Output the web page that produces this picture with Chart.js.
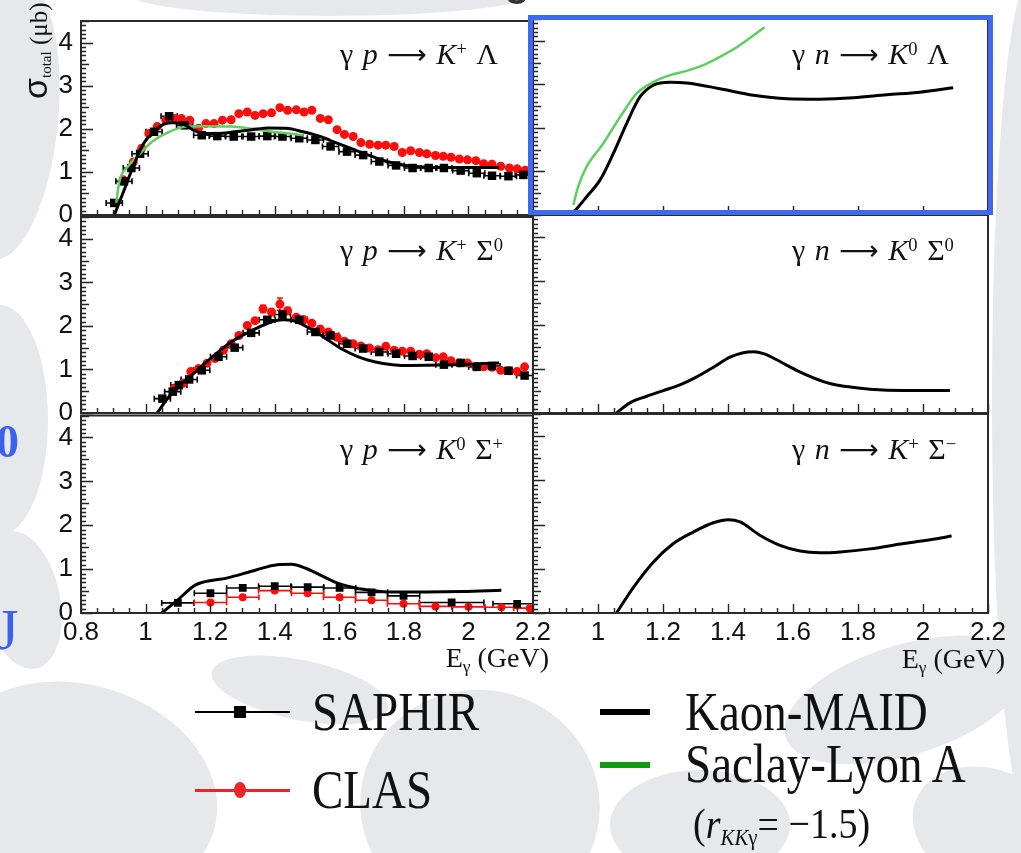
<!DOCTYPE html>
<html>
<head>
<meta charset="utf-8">
<script src="https://cdn.jsdelivr.net/npm/chart.js@4.4.1/dist/chart.umd.min.js"></script>
<style>
  body { margin: 0; background: #fff; }
  #page { position: relative; width: 1021px; height: 853px; overflow: hidden; background: #fff; }
  .txt { position: absolute; white-space: nowrap; line-height: 1; color: #111; z-index: 5; }
  .txt .up { font-size: .62em; vertical-align: .5em; line-height: 0; }
  .txt .dn { font-size: .62em; vertical-align: -.28em; line-height: 0; }
  .txt .arr { font-family: "DejaVu Sans", sans-serif; font-size: .92em; line-height: 0; }
  .sw { position: absolute; z-index: 5; }
  #box { position: absolute; left: 528px; top: 15px; width: 465px; height: 200px; box-sizing: border-box;
         border: 5px solid #3e6af2; z-index: 6; }
</style>
</head>
<body>
<div id="page">
  <canvas id="bg" width="1021" height="853" style="position:absolute;left:0;top:0"></canvas>
  <div id="box"></div>
</div>
<script>
// axis ticks shared by all six panels
const eTicks = [0.8, 1, 1.2, 1.4, 1.6, 1.8, 2, 2.2];
const eTickLabels = ['0.8', '1', '1.2', '1.4', '1.6', '1.8', '2', '2.2'];
const sigmaTicks = [0, 1, 2, 3, 4];

// gamma p -> K+ Lambda
const kpLamSaphirE = [0.903, 0.933, 0.956, 0.983, 1.026, 1.073, 1.121, 1.174, 1.222, 1.273, 1.327, 1.377, 1.424, 1.476, 1.526, 1.573, 1.624, 1.674, 1.724, 1.776, 1.827, 1.877, 1.924, 1.976, 2.026, 2.073, 2.124, 2.170];
const kpLamSaphirS = [0.28, 0.78, 1.09, 1.42, 1.93, 2.29, 2.08, 1.85, 1.83, 1.82, 1.82, 1.83, 1.82, 1.78, 1.74, 1.59, 1.47, 1.39, 1.24, 1.15, 1.09, 1.09, 1.09, 1.03, 0.97, 0.91, 0.90, 0.93];
const kpLamClasE = [0.930, 0.962, 0.988, 1.010, 1.036, 1.063, 1.089, 1.111, 1.137, 1.164, 1.187, 1.212, 1.238, 1.265, 1.289, 1.315, 1.339, 1.364, 1.390, 1.416, 1.440, 1.467, 1.491, 1.515, 1.541, 1.566, 1.593, 1.616, 1.643, 1.667, 1.694, 1.720, 1.744, 1.770, 1.795, 1.821, 1.848, 1.871, 1.898, 1.922, 1.946, 1.972, 1.997, 2.023, 2.047, 2.073, 2.100, 2.127, 2.151, 2.176];
const kpLamClasS = [0.82, 1.23, 1.55, 1.89, 2.05, 2.20, 2.24, 2.24, 2.20, 2.01, 2.12, 2.12, 2.20, 2.21, 2.35, 2.39, 2.31, 2.35, 2.37, 2.49, 2.43, 2.44, 2.39, 2.43, 2.24, 2.21, 1.98, 1.87, 1.82, 1.68, 1.64, 1.62, 1.62, 1.59, 1.45, 1.49, 1.45, 1.42, 1.38, 1.36, 1.34, 1.30, 1.28, 1.26, 1.19, 1.18, 1.13, 1.09, 1.07, 1.04];
const kpLamMaidE = [0.903, 0.930, 0.962, 0.994, 1.026, 1.057, 1.084, 1.116, 1.148, 1.180, 1.222, 1.276, 1.329, 1.382, 1.435, 1.488, 1.541, 1.595, 1.648, 1.701, 1.754, 1.807, 1.871, 1.946, 2.031, 2.095];
const kpLamMaidS = [0, 0.51, 1.13, 1.66, 1.93, 2.11, 2.14, 2.11, 1.97, 1.89, 1.89, 1.93, 1.98, 2.02, 2.01, 1.93, 1.82, 1.66, 1.51, 1.36, 1.23, 1.15, 1.11, 1.10, 1.10, 1.10];
const kpLamSlaE = [0.909, 0.919, 0.946, 0.978, 1.020, 1.073, 1.127, 1.180, 1.265, 1.339, 1.393, 1.446, 1.488];
const kpLamSlaS = [0.28, 0.78, 1.13, 1.39, 1.70, 1.93, 2.05, 2.06, 2.05, 1.99, 1.93, 1.89, 1.85];

// gamma n -> K0 Lambda
const k0LamMaidE = [0.912, 0.929, 0.965, 1.006, 1.047, 1.088, 1.129, 1.170, 1.222, 1.273, 1.375, 1.478, 1.581, 1.683, 1.786, 1.888, 1.991, 2.093];
const k0LamMaidS = [0, 0.10, 0.42, 0.80, 1.41, 2.10, 2.71, 2.98, 3.05, 3.03, 2.90, 2.75, 2.67, 2.66, 2.69, 2.76, 2.82, 2.92];
const k0LamSlaE = [0.924, 0.939, 0.965, 1.016, 1.068, 1.119, 1.170, 1.222, 1.273, 1.324, 1.375, 1.427, 1.478, 1.512];
const k0LamSlaS = [0.23, 0.65, 1.11, 1.64, 2.25, 2.79, 3.05, 3.21, 3.31, 3.44, 3.63, 3.85, 4.12, 4.31];

// gamma p -> K+ Sigma0
const kpSig0SaphirE = [1.052, 1.084, 1.103, 1.135, 1.174, 1.226, 1.276, 1.327, 1.377, 1.424, 1.476, 1.526, 1.573, 1.624, 1.674, 1.724, 1.776, 1.827, 1.877, 1.924, 1.976, 2.026, 2.073, 2.124, 2.174];
const kpSig0SaphirS = [0.33, 0.49, 0.64, 0.77, 0.98, 1.29, 1.50, 1.84, 2.14, 2.26, 2.14, 1.86, 1.78, 1.59, 1.48, 1.40, 1.36, 1.31, 1.29, 1.11, 1.15, 1.06, 1.08, 0.97, 0.86];
const kpSig0ClasE = [1.089, 1.116, 1.140, 1.164, 1.190, 1.215, 1.241, 1.265, 1.289, 1.315, 1.339, 1.364, 1.390, 1.416, 1.440, 1.467, 1.491, 1.515, 1.541, 1.566, 1.593, 1.616, 1.643, 1.667, 1.694, 1.720, 1.744, 1.770, 1.795, 1.821, 1.848, 1.871, 1.898, 1.922, 1.946, 1.972, 1.997, 2.023, 2.047, 2.073, 2.100, 2.127, 2.151, 2.174];
const kpSig0ClasS = [0.57, 0.68, 0.95, 1.02, 1.14, 1.25, 1.44, 1.59, 1.78, 2.01, 2.12, 2.39, 2.32, 2.50, 2.35, 2.20, 2.14, 2.06, 1.93, 1.86, 1.74, 1.65, 1.59, 1.54, 1.49, 1.45, 1.53, 1.44, 1.42, 1.42, 1.35, 1.36, 1.27, 1.29, 1.20, 1.15, 1.15, 1.06, 1.06, 1.05, 0.98, 0.97, 0.95, 1.06];
const kpSig0ClasErr = [0, 0, 0, 0, 0, 0, 0, 0, 0, 0, 0, 0.08, 0, 0.14, 0.07, 0, 0, 0, 0, 0, 0, 0, 0, 0, 0, 0, 0, 0, 0, 0, 0, 0, 0, 0, 0, 0, 0, 0, 0, 0, 0, 0, 0, 0];
const kpSig0MaidE = [1.036, 1.073, 1.137, 1.201, 1.265, 1.329, 1.393, 1.424, 1.456, 1.499, 1.552, 1.605, 1.659, 1.712, 1.765, 1.818, 1.924, 2.031, 2.095];
const kpSig0MaidS = [0, 0.38, 0.83, 1.25, 1.63, 1.89, 2.10, 2.14, 2.12, 1.98, 1.74, 1.48, 1.29, 1.17, 1.11, 1.09, 1.10, 1.13, 1.15];

// gamma n -> K0 Sigma0
const k0Sig0MaidE = [1.057, 1.098, 1.150, 1.201, 1.252, 1.304, 1.355, 1.406, 1.447, 1.478, 1.509, 1.560, 1.611, 1.663, 1.714, 1.765, 1.837, 1.940, 2.083];
const k0Sig0MaidS = [0, 0.23, 0.38, 0.51, 0.64, 0.82, 1.04, 1.27, 1.37, 1.39, 1.35, 1.17, 0.97, 0.80, 0.67, 0.60, 0.54, 0.51, 0.51];

// gamma p -> K0 Sigma+
const k0SigpSaphirE = [1.100, 1.201, 1.301, 1.400, 1.502, 1.601, 1.700, 1.799, 1.948, 2.151];
const k0SigpSaphirS = [0.23, 0.45, 0.57, 0.61, 0.59, 0.57, 0.47, 0.39, 0.24, 0.21];
const k0SigpSaphirBin = [0.05, 0.05, 0.05, 0.05, 0.05, 0.05, 0.05, 0.05, 0.1, 0.075];
const k0SigpClasE = [1.201, 1.301, 1.400, 1.502, 1.601, 1.700, 1.799, 1.898, 2.000, 2.102, 2.190];
const k0SigpClasS = [0.24, 0.36, 0.51, 0.45, 0.36, 0.29, 0.21, 0.15, 0.14, 0.13, 0.11];
const k0SigpClasBin = [0.05, 0.05, 0.05, 0.05, 0.05, 0.05, 0.05, 0.05, 0.05, 0.05, 0.05];
const k0SigpMaidE = [1.050, 1.100, 1.155, 1.254, 1.342, 1.408, 1.452, 1.496, 1.540, 1.595, 1.650, 1.705, 1.760, 1.870, 1.981, 2.102];
const k0SigpMaidS = [0, 0.30, 0.64, 0.80, 0.98, 1.10, 1.11, 1.02, 0.87, 0.68, 0.57, 0.51, 0.48, 0.48, 0.49, 0.52];

// gamma n -> K+ Sigma-
const kpSigmMaidE = [1.057, 1.109, 1.170, 1.232, 1.293, 1.355, 1.401, 1.437, 1.498, 1.560, 1.622, 1.683, 1.745, 1.837, 1.940, 2.042, 2.088];
const kpSigmMaidS = [0, 0.58, 1.15, 1.57, 1.83, 2.04, 2.11, 2.06, 1.76, 1.53, 1.40, 1.36, 1.38, 1.45, 1.57, 1.68, 1.74];

// saphir horizontal bin half width in the two upper rows
const saphirHalfBin = 0.025;

const W = 1021;
const colL = [81, 533], colR = [533, 988];
const rowT = [19, 215, 414], rowB = [215, 413, 613];
const page = document.getElementById('page');

Chart.defaults.font.family = '"Liberation Sans", Arial, sans-serif';

// faint watermark leaves behind the figure
(function drawBackdrop() {
  const c = document.getElementById('bg').getContext('2d');
  c.fillStyle = '#e7e8ec';
  const blobs = [
    [8, 120, 50, 140, 0.1], [0, 420, 48, 115, 0], [22, 600, 38, 70, -0.2],
    [80, 790, 140, 105, 0.3], [300, 690, 90, 30, 0.2], [480, 805, 120, 115, 0.2],
    [700, 825, 90, 55, 0], [905, 700, 125, 55, -0.3], [990, 830, 80, 60, 0.4],
    [1030, 400, 38, 420, 0], [330, -6, 200, 22, 0]
  ];
  blobs.forEach(([x, y, rx, ry, rot]) => { c.beginPath(); c.ellipse(x, y, rx, ry, rot, 0, Math.PI * 2); c.fill(); });
})();

const pts = (E, S) => E.map((e, i) => ({ x: e, y: S[i] }));
const maidLine = (E, S) => ({ data: pts(E, S), showLine: true, borderColor: '#000', borderWidth: 3, pointRadius: 0, cubicInterpolationMode: 'monotone', order: 0 });
const slaLine = (E, S) => ({ data: pts(E, S), showLine: true, borderColor: '#5dcf5d', borderWidth: 2.5, pointRadius: 0, cubicInterpolationMode: 'monotone', order: 0 });
const saphirPts = (E, S, xErr, r) => ({ data: pts(E, S), pointStyle: 'rect', pointRadius: r, backgroundColor: '#000', borderColor: '#000', borderWidth: 0, xErr, order: 1 });
const clasPts = (E, S, xErr, yErr, r) => ({ data: pts(E, S), pointStyle: 'circle', pointRadius: r, backgroundColor: '#ff0d0d', borderColor: '#ff0d0d', borderWidth: 0, xErr, yErr, order: 2 });

// white plot area, error bars under the markers, frame and inward ticks on top
const panelDeco = {
  id: 'panelDeco',
  beforeDraw(chart) {
    const { ctx, chartArea: a } = chart;
    ctx.save(); ctx.fillStyle = '#fff'; ctx.fillRect(a.left, a.top, a.width, a.height); ctx.restore();
  },
  beforeDatasetsDraw(chart) {
    const { ctx, chartArea: a, scales: { x, y } } = chart;
    ctx.save();
    ctx.beginPath(); ctx.rect(a.left, a.top, a.width, a.height); ctx.clip();
    chart.data.datasets.forEach(ds => {
      if (!ds.xErr && !ds.yErr) return;
      ctx.strokeStyle = ds.borderColor; ctx.lineWidth = 1.6;
      ds.data.forEach((p, i) => {
        const px = x.getPixelForValue(p.x), py = y.getPixelForValue(p.y);
        const dx = ds.xErr ? (Array.isArray(ds.xErr) ? ds.xErr[i] : ds.xErr) : 0;
        const dy = ds.yErr ? ds.yErr[i] : 0;
        ctx.beginPath();
        if (dx) {
          const x0 = x.getPixelForValue(p.x - dx), x1 = x.getPixelForValue(p.x + dx);
          ctx.moveTo(x0, py); ctx.lineTo(x1, py);
          ctx.moveTo(x0, py - 3); ctx.lineTo(x0, py + 3);
          ctx.moveTo(x1, py - 3); ctx.lineTo(x1, py + 3);
        }
        if (dy) {
          const y0 = y.getPixelForValue(p.y - dy), y1 = y.getPixelForValue(p.y + dy);
          ctx.moveTo(px, y0); ctx.lineTo(px, y1);
          ctx.moveTo(px - 3, y1); ctx.lineTo(px + 3, y1);
          ctx.moveTo(px - 3, y0); ctx.lineTo(px + 3, y0);
        }
        ctx.stroke();
      });
    });
    ctx.restore();
  },
  afterDraw(chart) {
    const { ctx, chartArea: a, scales: { x, y } } = chart;
    ctx.save();
    ctx.strokeStyle = '#222'; ctx.lineWidth = 1.4;
    ctx.beginPath();
    for (let i = 0; i <= 28; i++) {
      const px = Math.round(x.getPixelForValue(0.8 + i * 0.05)) + 0.5;
      const len = i % 4 === 0 ? 9 : 5;
      ctx.moveTo(px, a.bottom); ctx.lineTo(px, a.bottom - len);
    }
    for (let i = 0; i <= 45; i++) {
      const py = Math.round(y.getPixelForValue(i * 0.1)) + 0.5;
      const len = i % 10 === 0 ? 12 : (i % 5 === 0 ? 8 : 5);
      ctx.moveTo(a.left, py); ctx.lineTo(a.left + len, py);
    }
    ctx.stroke();
    ctx.lineWidth = 2; ctx.strokeStyle = '#2a2a2a';
    ctx.strokeRect(a.left, a.top, a.width, a.height);
    ctx.restore();
  }
};

function makePanel(col, row, datasets) {
  const padL = 70, padT = 4, padR = 28, padB = 46;
  const w = colR[col] - colL[col], h = rowB[row] - rowT[row];
  const cv = document.createElement('canvas');
  cv.width = w + padL + padR; cv.height = h + padT + padB;
  cv.style.cssText = `position:absolute;left:${colL[col] - padL}px;top:${rowT[row] - padT}px;width:${cv.width}px;height:${cv.height}px`;
  page.appendChild(cv);
  const tickFont = { family: '"Liberation Sans", Arial, sans-serif', size: 26 };
  new Chart(cv, {
    type: 'scatter',
    data: { datasets },
    options: {
      responsive: false, animation: false, devicePixelRatio: 1, events: [],
      layout: { padding: { top: padT, right: padR, left: 0, bottom: 0 } },
      plugins: { legend: { display: false }, tooltip: { enabled: false } },
      scales: {
        x: {
          type: 'linear', min: 0.8, max: 2.2,
          grid: { display: false, drawTicks: false }, border: { display: false },
          afterBuildTicks: s => { s.ticks = eTicks.map(v => ({ value: v })); },
          afterFit: s => { s.height = padB; s.paddingLeft = 0; s.paddingRight = 0; },
          ticks: {
            display: row === 2, autoSkip: false, maxRotation: 0, padding: 4, color: '#111', font: tickFont,
            callback: (v, i) => (col === 1 && i === 0) ? '' : eTickLabels[i]
          }
        },
        y: {
          type: 'linear', min: 0, max: 4.5,
          grid: { display: false, drawTicks: false }, border: { display: false },
          afterBuildTicks: s => { s.ticks = sigmaTicks.map(v => ({ value: v })); },
          afterFit: s => { s.width = padL; s.paddingTop = 0; s.paddingBottom = 0; },
          ticks: { display: col === 0, padding: 8, color: '#111', font: tickFont, callback: v => String(v) }
        }
      }
    },
    plugins: [panelDeco]
  });
}

makePanel(0, 0, [
  maidLine(kpLamMaidE, kpLamMaidS), slaLine(kpLamSlaE, kpLamSlaS),
  saphirPts(kpLamSaphirE, kpLamSaphirS, saphirHalfBin, 6), clasPts(kpLamClasE, kpLamClasS, null, null, 4.5)
]);
makePanel(0, 1, [
  maidLine(kpSig0MaidE, kpSig0MaidS),
  saphirPts(kpSig0SaphirE, kpSig0SaphirS, saphirHalfBin, 6), clasPts(kpSig0ClasE, kpSig0ClasS, null, kpSig0ClasErr, 4.5)
]);
makePanel(0, 2, [
  maidLine(k0SigpMaidE, k0SigpMaidS),
  saphirPts(k0SigpSaphirE, k0SigpSaphirS, k0SigpSaphirBin, 5.5), clasPts(k0SigpClasE, k0SigpClasS, k0SigpClasBin, null, 4)
]);
makePanel(1, 0, [maidLine(k0LamMaidE, k0LamMaidS), slaLine(k0LamSlaE, k0LamSlaS)]);
makePanel(1, 1, [maidLine(k0Sig0MaidE, k0Sig0MaidS)]);
makePanel(1, 2, [maidLine(kpSigmMaidE, kpSigmMaidS)]);

// text helper: x and baseline in page pixels
function txt(html, x, base, size, o = {}) {
  const d = document.createElement('div');
  d.className = 'txt';
  d.innerHTML = html;
  const asc = o.sans ? 0.8465 : 0.8375;
  d.style.fontFamily = o.sans ? '"Liberation Sans", Arial, sans-serif' : '"Liberation Serif", "Times New Roman", serif';
  d.style.fontSize = size + 'px';
  d.style.top = (base - asc * size) + 'px';
  if (o.right) d.style.right = (W - x) + 'px'; else d.style.left = x + 'px';
  if (o.color) d.style.color = o.color;
  if (o.bold) d.style.fontWeight = 'bold';
  if (o.ws) d.style.wordSpacing = o.ws + 'px';
  if (o.sy) { d.style.transform = `scaleY(${o.sy})`; d.style.transformOrigin = `0 ${asc * size}px`; }
  page.appendChild(d);
  return d;
}

// reaction labels
const arrow = '<span class="arr">⟶</span>';
const titles = [
  [0, 0, `γ <i>p</i> ${arrow} <i>K</i><span class="up">+</span> Λ`],
  [1, 0, `γ <i>n</i> ${arrow} <i>K</i><span class="up">0</span> Λ`],
  [0, 1, `γ <i>p</i> ${arrow} <i>K</i><span class="up">+</span> Σ<span class="up">0</span>`],
  [1, 1, `γ <i>n</i> ${arrow} <i>K</i><span class="up">0</span> Σ<span class="up">0</span>`],
  [0, 2, `γ <i>p</i> ${arrow} <i>K</i><span class="up">0</span> Σ<span class="up">+</span>`],
  [1, 2, `γ <i>n</i> ${arrow} <i>K</i><span class="up">+</span> Σ<span class="up">−</span>`]
];
titles.forEach(([c, r, html]) => txt(html, colL[c] + 259, rowT[r] + 45, 30, { ws: 2 }));

// axis titles
const yTitle = txt('<span style="font-family:\'Liberation Sans\',sans-serif;font-size:34px">σ</span><span class="dn" style="font-size:15px">total</span> (μb)', 0, 0, 25);
yTitle.style.left = '18px'; yTitle.style.top = '99px';
yTitle.style.transformOrigin = '0 0'; yTitle.style.transform = 'rotate(-90deg)';
txt('E<span class="dn">γ</span> (GeV)', 549, 667, 28, { right: true });
txt('E<span class="dn">γ</span> (GeV)', 1005, 668, 28, { right: true });

// clipped slide text at the edges
txt('0', -4, 458, 46, { bold: true, color: '#3a62ee' });
txt('J', -4, 650, 58, { color: '#3a62ee' });
txt('g', 505, -4, 40, { sans: true, bold: true, color: '#333' });

// legend
function swatch(css) { const d = document.createElement('div'); d.className = 'sw'; d.style.cssText += css; page.appendChild(d); }
swatch('left:195px;top:711px;width:95px;height:2px;background:#000');
swatch('left:234px;top:706px;width:12px;height:12px;background:#000');
swatch('left:195px;top:789px;width:95px;height:2.5px;background:#e8262a');
swatch('left:234px;top:782px;width:12px;height:16px;border-radius:50%;background:#e8262a');
swatch('left:600px;top:709px;width:50px;height:6px;background:#000');
swatch('left:600px;top:762px;width:50px;height:6px;background:#109a10');
txt('SAPHIR', 312, 730, 47, { sy: 1.15 });
txt('CLAS', 312, 808, 47, { sy: 1.15 });
txt('Kaon-MAID', 685, 730, 47, { sy: 1.15 });
txt('Saclay-Lyon A', 685, 782, 47, { sy: 1.15 });
txt('(<i>r</i><span class="dn" style="font-size:.55em"><i>KK</i>γ</span>= −1.5)', 693, 838, 38, { sy: 1.12 });
</script>
</body>
</html>
